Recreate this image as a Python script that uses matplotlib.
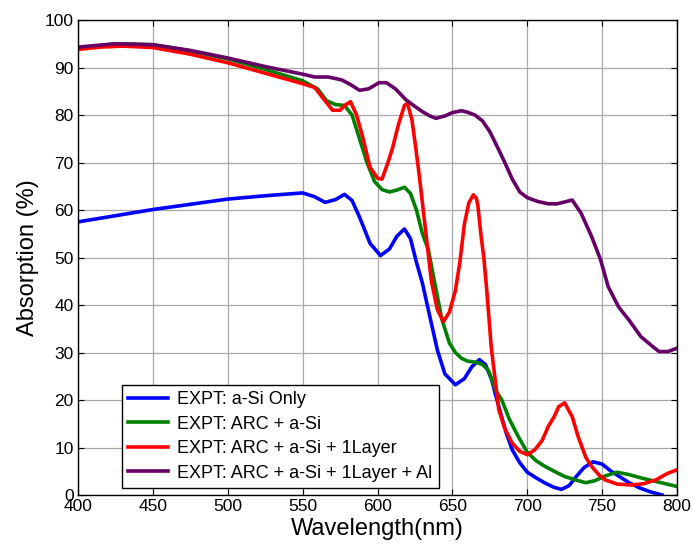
import numpy as np
import matplotlib
matplotlib.use("Agg")
import matplotlib.pyplot as plt

plt.rcParams['font.family'] = ['Liberation Sans', 'DejaVu Sans']

# EXPT: a-Si Only
wl_asi = [400, 425, 450, 475, 500, 525, 550, 558, 565, 572, 578, 583, 588, 595, 602,
          608, 613, 618, 622, 626, 630, 635, 640, 645, 652, 658, 663, 668, 672, 676,
          681, 686, 690, 695, 700, 706, 712, 718, 723, 728, 733, 738, 744, 750, 756,
          762, 768, 775, 782, 790]
abs_asi = [57.5, 58.8, 60.1, 61.2, 62.3, 63.0, 63.6, 62.8, 61.6, 62.2, 63.3, 62.0, 58.5, 53.0, 50.4,
           51.8, 54.5, 56.0, 54.0, 49.0, 44.6, 37.5, 30.5, 25.5, 23.2, 24.5, 27.0, 28.5, 27.5, 24.5,
           18.6, 13.0, 9.5, 6.8, 4.8, 3.6, 2.5, 1.6, 1.2, 2.0, 4.0, 5.8, 7.0, 6.5, 5.0,
           3.8, 2.6, 1.5, 0.7, 0.0]

# EXPT: ARC + a-Si
wl_arc = [400, 425, 450, 475, 500, 525, 550, 560, 566, 572, 578, 583, 588, 593, 598,
          603, 608, 613, 618, 622, 626, 630, 634, 638, 643, 648, 652, 656, 660, 665,
          670, 674, 679, 683, 688, 694, 700, 706, 712, 718, 725, 732, 739, 745, 752,
          760, 768, 776, 784, 792, 800]
abs_arc = [94.0, 95.0, 94.8, 93.5, 91.8, 89.6, 87.2, 85.5, 83.0, 82.2, 82.0, 80.0, 75.0, 70.0, 66.0,
           64.3, 63.8, 64.2, 64.8, 63.5, 60.0, 55.0, 51.6, 45.0, 37.0, 32.0, 30.0, 28.8, 28.2, 28.0,
           27.5, 26.3, 22.0, 20.0, 16.0, 12.3, 9.0, 7.2, 6.0, 5.0, 3.9, 3.2, 2.6, 3.0, 4.0,
           4.8, 4.3, 3.6, 3.0, 2.4, 1.8]

# EXPT: ARC + a-Si + 1Layer
wl_1l = [400, 415, 430, 450, 475, 500, 525, 550, 558, 565, 570, 575, 578, 582, 586,
         590, 595, 600, 603, 607, 610, 614, 618, 620, 623, 626, 628, 632, 636, 640,
         644, 648, 652, 655, 658, 661, 664, 666, 667, 669, 671, 673, 676, 681, 685,
         690, 695, 700, 705, 710, 714, 718, 721, 725, 730, 734, 739, 743, 748, 752,
         760, 770, 778, 786, 794, 800]
abs_1l = [93.8, 94.3, 94.5, 94.2, 92.8, 91.0, 88.8, 86.6, 85.8, 83.0, 81.0, 81.0, 82.0, 82.8, 80.0,
          75.5, 69.0, 66.7, 66.5, 70.0, 73.0, 78.0, 82.0, 82.5, 79.0, 72.0, 67.0, 56.0, 45.0, 39.0,
          36.5, 38.5, 43.0, 49.0, 57.0, 61.5, 63.2, 62.5, 61.0, 55.0, 50.0, 43.0, 31.0, 18.0, 14.0,
          10.9, 9.2, 8.5, 9.5, 11.5, 14.4, 16.5, 18.6, 19.4, 16.5, 12.3, 8.0, 6.0, 4.2, 3.2,
          2.3, 2.1, 2.4, 3.2, 4.6, 5.3]

# EXPT: ARC + a-Si + 1Layer + Al
wl_al = [400, 425, 450, 475, 500, 525, 550, 558, 567, 576, 582, 588, 594, 601, 606,
         612, 619, 625, 630, 635, 639, 645, 650, 656, 660, 665, 670, 675, 680, 685,
         690, 695, 700, 707, 714, 720, 725, 730, 736, 743, 749, 754, 761, 768, 776,
         784, 788, 794, 800]
abs_al = [94.3, 95.0, 94.8, 93.6, 92.0, 90.2, 88.6, 88.0, 88.0, 87.4, 86.4, 85.2, 85.5, 86.8, 86.8,
          85.5, 83.2, 81.8, 80.7, 79.8, 79.3, 79.8, 80.5, 80.9, 80.6, 80.0, 78.8, 76.5, 73.3, 70.0,
          66.5, 63.8, 62.6, 61.8, 61.3, 61.3, 61.7, 62.1, 59.3, 54.4, 49.5, 43.9, 39.6, 36.8, 33.3,
          31.2, 30.2, 30.2, 30.9]

labels = ['EXPT: a-Si Only', 'EXPT: ARC + a-Si', 'EXPT: ARC + a-Si + 1Layer',
          'EXPT: ARC + a-Si + 1Layer + Al']
colors = ['#0000ff', '#008000', '#ff0000', '#660066']

fig = plt.figure(figsize=(6.94, 5.51), dpi=100)
ax = fig.add_axes([0.1124, 0.1016, 0.8631, 0.8621])

series = [(wl_asi, abs_asi), (wl_arc, abs_arc), (wl_1l, abs_1l), (wl_al, abs_al)]
for (x, y), lab, c in zip(series, labels, colors):
    ax.plot(x, y, color=c, lw=2.6, label=lab)

ax.set_xlim(400, 800)
ax.set_ylim(0, 100)
ax.set_xticks(np.arange(400, 801, 50))
ax.set_yticks(np.arange(0, 101, 10))
ax.grid(True, color='#a8a8a8', lw=0.9, ls='-')
ax.set_axisbelow(True)
ax.tick_params(direction='in', top=True, right=True, labelsize=12.5, length=4, width=0.8, pad=3)
for s in ax.spines.values():
    s.set_linewidth(1.0)

ax.set_xlabel('Wavelength(nm)', fontsize=17, labelpad=3)
ax.set_ylabel('Absorption (%)', fontsize=17, labelpad=4)

leg = ax.legend(loc='lower left', bbox_to_anchor=(0.0735, 0.0147), borderaxespad=0,
                fontsize=13, fancybox=False, framealpha=1, edgecolor='black',
                handlelength=2.2, handletextpad=0.5, labelspacing=0.42, borderpad=0.35)
leg.get_frame().set_linewidth(1.0)

fig.savefig('out.png', dpi=100)
